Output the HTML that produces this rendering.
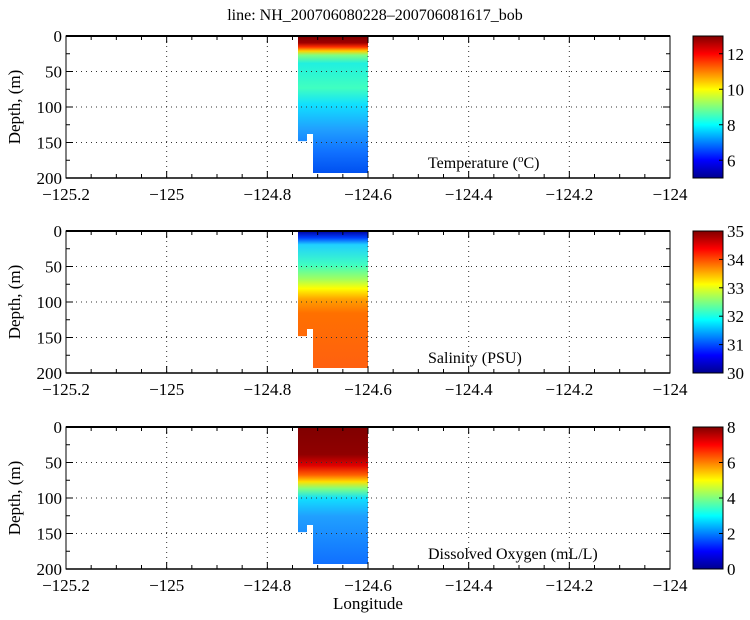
<!DOCTYPE html>
<html><head><meta charset="utf-8"><style>
body{margin:0;background:#fff;}
svg, svg text{font-family:"Liberation Serif","Times New Roman",serif;}
</style></head><body>
<svg id="s" width="750" height="615" viewBox="0 0 750 615" xmlns="http://www.w3.org/2000/svg" font-family="Liberation Serif, serif">
<defs>
<linearGradient id="gT" x1="0" y1="0" x2="0" y2="1">
<stop offset="0" stop-color="#7a0000"/><stop offset="0.05" stop-color="#a00000"/>
<stop offset="0.08" stop-color="#ff3000"/><stop offset="0.11" stop-color="#ffd000"/>
<stop offset="0.14" stop-color="#80ff80"/><stop offset="0.2" stop-color="#20f0e0"/>
<stop offset="0.38" stop-color="#40ffc0"/><stop offset="0.5" stop-color="#10e0ff"/>
<stop offset="0.68" stop-color="#20a0ff"/><stop offset="0.85" stop-color="#1070ff"/>
<stop offset="1" stop-color="#0050f0"/></linearGradient>
<linearGradient id="gS" x1="0" y1="0" x2="0" y2="1">
<stop offset="0" stop-color="#0000a0"/><stop offset="0.05" stop-color="#0040ff"/>
<stop offset="0.1" stop-color="#20d0ff"/><stop offset="0.25" stop-color="#40ffc0"/>
<stop offset="0.35" stop-color="#a0ff60"/><stop offset="0.42" stop-color="#ffff00"/>
<stop offset="0.5" stop-color="#ffa000"/><stop offset="0.6" stop-color="#ff7000"/>
<stop offset="1" stop-color="#ff6010"/></linearGradient>
<linearGradient id="gO" x1="0" y1="0" x2="0" y2="1">
<stop offset="0" stop-color="#800000"/><stop offset="0.2" stop-color="#900000"/>
<stop offset="0.28" stop-color="#e00000"/><stop offset="0.35" stop-color="#ff6000"/>
<stop offset="0.4" stop-color="#ffe000"/><stop offset="0.45" stop-color="#80ff80"/>
<stop offset="0.52" stop-color="#10e0ff"/><stop offset="0.65" stop-color="#20a0ff"/>
<stop offset="1" stop-color="#1070ff"/></linearGradient>
<linearGradient id="jet" x1="0" y1="1" x2="0" y2="0">
<stop offset="0" stop-color="#00008f"/><stop offset="0.125" stop-color="#0000ff"/>
<stop offset="0.375" stop-color="#00ffff"/><stop offset="0.625" stop-color="#ffff00"/>
<stop offset="0.875" stop-color="#ff0000"/><stop offset="1" stop-color="#800000"/></linearGradient>
</defs>
<text x="375" y="20" font-size="16" text-anchor="middle" font-family="Liberation Serif, serif">line: NH_200706080228–200706081617_bob</text>
<g id="panels"></g>
<text x="368" y="609" font-size="17" text-anchor="middle" font-family="Liberation Serif, serif">Longitude</text>
</svg>
<script>
const ns="http://www.w3.org/2000/svg",g=document.getElementById("panels");
function el(t,a,txt){const e=document.createElementNS(ns,t);if(t=="text")e.setAttribute("font-family","Liberation Serif, serif");for(const k in a)e.setAttribute(k,a[k]);if(txt!==undefined)e.innerHTML=txt;g.appendChild(e);return e;}
const L=66,R=670,H=142;
const X=v=>L+(v+125.2)/1.2*(R-L);
const panels=[
 {top:36,grad:"gT",label:'Temperature (<tspan font-size="11" dy="-6">o</tspan><tspan dy="6">C)</tspan>',lx:428,cb:[5,13],cbt:[6,8,10,12]},
 {top:231,grad:"gS",label:'Salinity (PSU)',lx:428,cb:[30,35],cbt:[30,31,32,33,34,35]},
 {top:427,grad:"gO",label:'Dissolved Oxygen (mL/L)',lx:428,cb:[0,8],cbt:[0,2,4,6,8]}];
panels.forEach(p=>{
 const T=p.top,B=T+H,Y=d=>T+d/200*H;
 const x0=298,xs=313,x1=368;
 el("path",{d:`M${x0} ${T} L${x1} ${T} L${x1} ${Y(193)} L${xs} ${Y(193)} L${xs} ${Y(138)} L${x0+9} ${Y(138)} L${x0+9} ${Y(148)} L${x0} ${Y(148)} Z`,fill:`url(#${p.grad})`});
 [-125,-124.8,-124.6,-124.4,-124.2].forEach(v=>el("line",{x1:X(v),x2:X(v),y1:T,y2:B,stroke:"#333","stroke-width":1,"stroke-dasharray":"1,4"}));
 [50,100,150].forEach(d=>el("line",{x1:L,x2:R,y1:Y(d),y2:Y(d),stroke:"#333","stroke-width":1,"stroke-dasharray":"1,4"}));
 el("rect",{x:L,y:T,width:R-L,height:H,fill:"none",stroke:"#000","stroke-width":1});
 el("line",{x1:L,x2:R,y1:T,y2:T,stroke:"#000","stroke-width":2});
 el("line",{x1:L,x2:R,y1:B,y2:B,stroke:"#000","stroke-width":1.5});
 for(let i=0;i<=24;i++){const v=-125.2+i*0.05,x=X(v),m=i%4==0,len=m?7:4;
  el("line",{x1:x,x2:x,y1:B,y2:B-len,stroke:"#000"});el("line",{x1:x,x2:x,y1:T,y2:T+len,stroke:"#000"});
  if(m){let s=(Math.round(v*10)/10).toString().replace("-","−");el("text",{x:x,y:B+22,"font-size":17,"text-anchor":"middle"},s);}}
 for(let d=0;d<=200;d+=25){const y=Y(d),m=d%50==0,len=m?7:4;
  el("line",{x1:L,x2:L+len,y1:y,y2:y,stroke:"#000"});el("line",{x1:R,x2:R-len,y1:y,y2:y,stroke:"#000"});
  if(m)el("text",{x:L-4,y:y+6,"font-size":17,"text-anchor":"end"},d);}
 el("text",{x:20,y:(T+B)/2,"font-size":17,"text-anchor":"middle",transform:`rotate(-90 20 ${(T+B)/2})`},"Depth, (m)");
 el("text",{x:p.lx,y:B-10,"font-size":16},p.label);
 const cx=693,cw=30;
 el("rect",{x:cx,y:T,width:cw,height:H,fill:"url(#jet)",stroke:"#000"});
 p.cbt.forEach(v=>{const y=B-(v-p.cb[0])/(p.cb[1]-p.cb[0])*H;
  el("line",{x1:cx+cw,x2:cx+cw-4,y1:y,y2:y,stroke:"#000"});
  el("text",{x:cx+cw+4,y:y+6,"font-size":17},v);});
});
</script>
</body></html>
